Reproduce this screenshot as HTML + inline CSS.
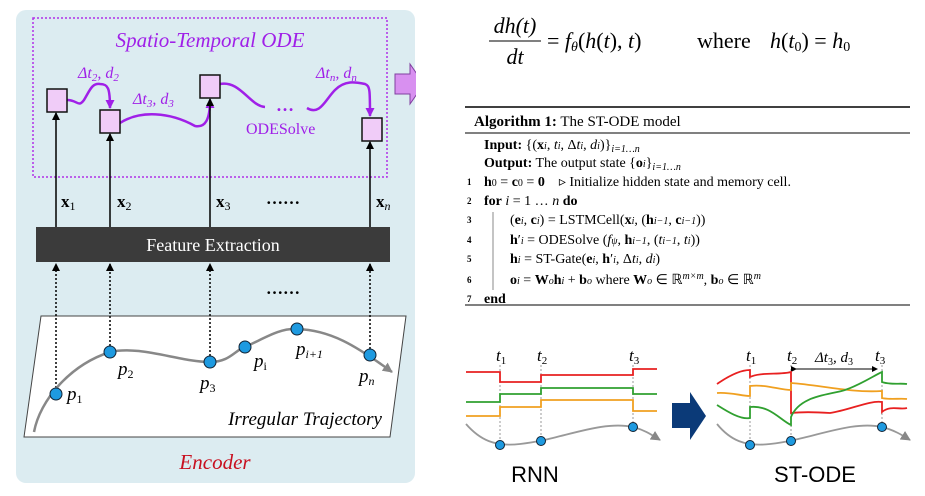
<!DOCTYPE html>
<html><head><meta charset="utf-8"><style>
body{margin:0;background:#fff;}
svg{display:block;}
.s{font-family:"Liberation Serif",serif;}
</style></head><body>
<svg width="925" height="496" viewBox="0 0 925 496" xmlns="http://www.w3.org/2000/svg" class="s">
<defs>
<marker id="ab" markerWidth="8" markerHeight="8" refX="7" refY="4" orient="auto" markerUnits="userSpaceOnUse" viewBox="0 0 8 8"><path d="M0,0 L8,4 L0,8 Z" fill="#000"/></marker>
<marker id="ap" markerWidth="9" markerHeight="9" refX="8" refY="4.5" orient="auto" markerUnits="userSpaceOnUse" viewBox="0 0 9 9"><path d="M0,0 L9,4.5 L0,9 Z" fill="#a020e8"/></marker>
<marker id="ag" markerWidth="10" markerHeight="10" refX="9" refY="5" orient="auto" markerUnits="userSpaceOnUse" viewBox="0 0 10 10"><path d="M0,0 L10,5 L0,10 Z" fill="#888"/></marker>
<marker id="ak" markerWidth="6" markerHeight="6" refX="5" refY="3" orient="auto" markerUnits="userSpaceOnUse" viewBox="0 0 6 6"><path d="M0,0 L6,3 L0,6 Z" fill="#000"/></marker>
<clipPath id="cp"><rect x="0" y="0" width="416" height="496"/></clipPath>
</defs>
<!-- left panel -->
<rect x="16" y="10" width="399" height="473" rx="10" fill="#dcecf1"/>
<rect x="33" y="18" width="354" height="159" fill="none" stroke="#b030e8" stroke-width="1.5" stroke-dasharray="2,2"/>
<text x="210" y="47" font-size="21" font-style="italic" fill="#a020e8" text-anchor="middle">Spatio-Temporal ODE</text>
<g fill="none" stroke="#a020e8" stroke-width="2.5">
<path d="M67,100 C78,100 78,108 84,100 C90,90 92,83 100,84 C108,84 110,88 110,108" marker-end="url(#ap)"/>
<path d="M120,123 C140,110 170,112 195,126 C205,128 210,120 210,100" marker-end="url(#ap)"/>
<path d="M220,84 C240,80 250,106 265,107"/>
<path d="M307,108 C320,116 325,100 335,90 C345,80 355,82 365,84 C370,86 370,90 370,116" marker-end="url(#ap)"/>
</g>
<text x="78" y="78" font-size="16" fill="#a020e8" font-style="italic">Δt<tspan font-size="11" dy="3">2</tspan><tspan dy="-3">, d</tspan><tspan font-size="11" dy="3">2</tspan></text>
<text x="133" y="104" font-size="16" fill="#a020e8" font-style="italic">Δt<tspan font-size="11" dy="3">3</tspan><tspan dy="-3">, d</tspan><tspan font-size="11" dy="3">3</tspan></text>
<text x="316" y="78" font-size="16" fill="#a020e8" font-style="italic">Δt<tspan font-size="11" dy="3">n</tspan><tspan dy="-3">, d</tspan><tspan font-size="11" dy="3">n</tspan></text>
<text x="276" y="111" font-size="18" fill="#a020e8" font-weight="bold">…</text>
<text x="246" y="134" font-size="16" fill="#a020e8">ODESolve</text>
<path clip-path="url(#cp)" d="M395,74 H410 V64 L424,84 L410,104 V94 H395 Z" fill="#d890f0" stroke="#8040a0" stroke-width="1"/>
<g fill="#f0ccf8" stroke="#111" stroke-width="1.5">
<rect x="47" y="89" width="20" height="23"/>
<rect x="100" y="110" width="20" height="23"/>
<rect x="200" y="75" width="20" height="23"/>
<rect x="362" y="118" width="20" height="23"/>
</g>
<g stroke="#000" stroke-width="1.5" marker-end="url(#ab)">
<line x1="56" y1="227" x2="56" y2="113"/>
<line x1="110" y1="227" x2="110" y2="134"/>
<line x1="210" y1="227" x2="210" y2="99"/>
<line x1="370" y1="227" x2="370" y2="142"/>
</g>
<g font-size="17" font-weight="bold">
<text x="61" y="207">x<tspan font-size="12" font-weight="normal" dy="3">1</tspan></text>
<text x="117" y="207">x<tspan font-size="12" font-weight="normal" dy="3">2</tspan></text>
<text x="216" y="207">x<tspan font-size="12" font-weight="normal" dy="3">3</tspan></text>
<text x="376" y="207">x<tspan font-size="12" font-weight="normal" font-style="italic" dy="3">n</tspan></text>
<text x="266" y="204">……</text>
<text x="266" y="294">……</text>
</g>
<rect x="36" y="227" width="354" height="35" fill="#3b3b3b"/>
<text x="213" y="251" font-size="18" fill="#fff" text-anchor="middle">Feature Extraction</text>
<path d="M41,316 L406,316 L390,437 L24,437 Z" fill="#fff" stroke="#444" stroke-width="1"/>
<g stroke="#000" stroke-width="1.5" stroke-dasharray="2,2" marker-end="url(#ab)">
<line x1="56" y1="392" x2="56" y2="264"/>
<line x1="110" y1="350" x2="110" y2="264"/>
<line x1="210" y1="360" x2="210" y2="264"/>
<line x1="370" y1="353" x2="370" y2="264"/>
</g>
<path d="M34,432 C40,400 70,365 110,352 C140,345 180,362 210,362 C230,362 235,350 245,347 C265,338 280,328 297,329 C330,330 355,345 392,372" fill="none" stroke="#888" stroke-width="2.5" marker-end="url(#ag)"/>
<g fill="#1e9ae0" stroke="#123" stroke-width="1">
<circle cx="56" cy="394" r="6"/><circle cx="110" cy="352" r="6"/><circle cx="210" cy="362" r="6"/>
<circle cx="245" cy="347" r="6"/><circle cx="297" cy="329" r="6"/><circle cx="370" cy="355" r="6"/>
</g>
<g font-size="19" font-style="italic">
<text x="67" y="400">p<tspan font-size="12" font-style="normal" dy="3">1</tspan></text>
<text x="118" y="375">p<tspan font-size="12" font-style="normal" dy="3">2</tspan></text>
<text x="200" y="389">p<tspan font-size="12" font-style="normal" dy="3">3</tspan></text>
<text x="254" y="367">p<tspan font-size="12" font-style="normal" dy="3">i</tspan></text>
<text x="296" y="355">p<tspan font-size="12" dy="3">i+1</tspan></text>
<text x="359" y="382">p<tspan font-size="12" dy="3">n</tspan></text>
</g>
<text x="382" y="425" font-size="19" font-style="italic" text-anchor="end">Irregular Trajectory</text>
<text x="215" y="469" font-size="21" font-style="italic" fill="#c81020" text-anchor="middle">Encoder</text>

<!-- equation -->
<g font-size="22" font-style="italic">
<text x="515" y="33" text-anchor="middle">dh(t)</text>
<line x1="489" y1="41" x2="541" y2="41" stroke="#000" stroke-width="1"/>
<text x="515" y="64" text-anchor="middle">dt</text>
<text x="547" y="48"><tspan font-style="normal">= </tspan>f<tspan font-size="14" dy="3">θ</tspan><tspan dy="-3" font-style="normal">(</tspan>h<tspan font-style="normal">(</tspan>t<tspan font-style="normal">), </tspan>t<tspan font-style="normal">)</tspan></text>
<text x="697" y="48" font-style="normal">where</text>
<text x="770" y="48">h<tspan font-style="normal">(</tspan>t<tspan font-size="14" font-style="normal" dy="3">0</tspan><tspan dy="-3" font-style="normal">) = </tspan>h<tspan font-size="14" font-style="normal" dy="3">0</tspan></text>
</g>

<!-- algorithm -->
<line x1="465" y1="107" x2="910" y2="107" stroke="#000" stroke-width="1.5"/>
<line x1="465" y1="133" x2="910" y2="133" stroke="#000" stroke-width="1"/>
<line x1="465" y1="305" x2="910" y2="305" stroke="#000" stroke-width="1"/>
<text x="474" y="126" font-size="15"><tspan font-weight="bold">Algorithm 1:</tspan> The ST-ODE model</text>
<g font-size="14">
<text x="484" y="149"><tspan font-weight="bold">Input:</tspan> {(<tspan font-weight="bold">x</tspan><tspan font-size="10" font-style="italic">i</tspan>, <tspan font-style="italic">t</tspan><tspan font-size="10" font-style="italic">i</tspan>, Δ<tspan font-style="italic">t</tspan><tspan font-size="10" font-style="italic">i</tspan>, <tspan font-style="italic">d</tspan><tspan font-size="10" font-style="italic">i</tspan>)}<tspan font-size="10" font-style="italic" dy="3">i=1…n</tspan></text>
<text x="484" y="167"><tspan font-weight="bold">Output:</tspan> The output state {<tspan font-weight="bold">o</tspan><tspan font-size="10" font-style="italic">i</tspan>}<tspan font-size="10" font-style="italic" dy="3">i=1…n</tspan></text>
<text x="484" y="186"><tspan font-weight="bold">h</tspan><tspan font-size="10">0</tspan> = <tspan font-weight="bold">c</tspan><tspan font-size="10">0</tspan> = <tspan font-weight="bold">0</tspan><tspan dx="14">▹ Initialize hidden state and memory cell.</tspan></text>
<text x="484" y="205"><tspan font-weight="bold">for</tspan> <tspan font-style="italic">i</tspan> = 1 … <tspan font-style="italic">n</tspan> <tspan font-weight="bold">do</tspan></text>
<text x="510" y="224">(<tspan font-weight="bold">e</tspan><tspan font-size="10" font-style="italic">i</tspan>, <tspan font-weight="bold">c</tspan><tspan font-size="10" font-style="italic">i</tspan>) = LSTMCell(<tspan font-weight="bold">x</tspan><tspan font-size="10" font-style="italic">i</tspan>, (<tspan font-weight="bold">h</tspan><tspan font-size="10" font-style="italic">i−1</tspan>, <tspan font-weight="bold">c</tspan><tspan font-size="10" font-style="italic">i−1</tspan>))</text>
<text x="510" y="244"><tspan font-weight="bold">h</tspan>′<tspan font-size="10" font-style="italic">i</tspan> = ODESolve (<tspan font-style="italic">f</tspan><tspan font-size="10" font-style="italic">ψ</tspan>, <tspan font-weight="bold">h</tspan><tspan font-size="10" font-style="italic">i−1</tspan>, (<tspan font-style="italic">t</tspan><tspan font-size="10" font-style="italic">i−1</tspan>, <tspan font-style="italic">t</tspan><tspan font-size="10" font-style="italic">i</tspan>))</text>
<text x="510" y="263"><tspan font-weight="bold">h</tspan><tspan font-size="10" font-style="italic">i</tspan> = ST-Gate(<tspan font-weight="bold">e</tspan><tspan font-size="10" font-style="italic">i</tspan>, <tspan font-weight="bold">h</tspan>′<tspan font-size="10" font-style="italic">i</tspan>, Δ<tspan font-style="italic">t</tspan><tspan font-size="10" font-style="italic">i</tspan>, <tspan font-style="italic">d</tspan><tspan font-size="10" font-style="italic">i</tspan>)</text>
<text x="510" y="284"><tspan font-weight="bold">o</tspan><tspan font-size="10" font-style="italic">i</tspan> = <tspan font-weight="bold">W</tspan><tspan font-size="10" font-style="italic">o</tspan><tspan font-weight="bold">h</tspan><tspan font-size="10" font-style="italic">i</tspan> + <tspan font-weight="bold">b</tspan><tspan font-size="10" font-style="italic">o</tspan> where <tspan font-weight="bold">W</tspan><tspan font-size="10" font-style="italic">o</tspan> ∈ ℝ<tspan font-size="10" font-style="italic" dy="-5">m×m</tspan><tspan dy="5">, </tspan><tspan font-weight="bold">b</tspan><tspan font-size="10" font-style="italic">o</tspan> ∈ ℝ<tspan font-size="10" font-style="italic" dy="-5">m</tspan></text>
<text x="484" y="303" font-weight="bold">end</text>
</g>
<g font-size="9" font-weight="bold">
<text x="467" y="185">1</text><text x="467" y="204">2</text><text x="467" y="223">3</text>
<text x="467" y="243">4</text><text x="467" y="262">5</text><text x="467" y="283">6</text><text x="467" y="302">7</text>
</g>
<line x1="493" y1="212" x2="493" y2="290" stroke="#888" stroke-width="1"/>

<!-- RNN -->
<g stroke="#999" stroke-width="1" stroke-dasharray="2,2">
<line x1="500" y1="365" x2="500" y2="445"/><line x1="541" y1="365" x2="541" y2="441"/><line x1="633" y1="365" x2="633" y2="427"/>
<line x1="750" y1="365" x2="750" y2="445"/><line x1="791" y1="365" x2="791" y2="441"/><line x1="882" y1="365" x2="882" y2="427"/>
</g>
<g font-size="17" font-style="italic">
<text x="496" y="361">t<tspan font-size="11" font-style="normal" dy="3">1</tspan></text>
<text x="537" y="361">t<tspan font-size="11" font-style="normal" dy="3">2</tspan></text>
<text x="629" y="361">t<tspan font-size="11" font-style="normal" dy="3">3</tspan></text>
<text x="746" y="361">t<tspan font-size="11" font-style="normal" dy="3">1</tspan></text>
<text x="787" y="361">t<tspan font-size="11" font-style="normal" dy="3">2</tspan></text>
<text x="875" y="361">t<tspan font-size="11" font-style="normal" dy="3">3</tspan></text>
<text x="815" y="362" font-size="15">Δt<tspan font-size="10" font-style="normal" dy="3">3</tspan><tspan dy="-3">, d</tspan><tspan font-size="10" font-style="normal" dy="3">3</tspan></text>
</g>
<g fill="none" stroke-width="1.8">
<path d="M466,372 H500 V382 H541 V375 H633 V369 H657" stroke="#e82020"/>
<path d="M466,402 H500 V394 H541 V388 H633 V394 H657" stroke="#30a030"/>
<path d="M466,416 H500 V407 H541 V400 H633 V411 H657" stroke="#f0a020"/>
<path d="M466,424 C480,440 495,447 520,444 C560,440 600,420 633,427" stroke="#999"/>
<path d="M633,427 C645,430 652,435 660,440" stroke="#999" marker-end="url(#ag)"/>
</g>
<g fill="#1e9ae0" stroke="#123" stroke-width="1">
<circle cx="500" cy="445" r="4.5"/><circle cx="541" cy="441" r="4.5"/><circle cx="633" cy="427" r="4.5"/>
</g>
<text x="535" y="482" font-family="Liberation Sans,sans-serif" font-size="22" text-anchor="middle">RNN</text>
<path d="M672,403 H690 V392 L706,416 L690,440 V428 H672 Z" fill="#0b3a78"/>
<line x1="796" y1="369" x2="877" y2="369" stroke="#000" stroke-width="1" marker-end="url(#ak)" marker-start="url(#ak)"/>
<g fill="none" stroke-width="1.8">
<path d="M717,384 C730,375 742,370 750,370 V377 C760,372 780,375 791,372 V413 C800,412 815,412 830,413 C850,410 870,400 882,402 V412 C890,405 900,410 907,408" stroke="#e82020"/>
<path d="M717,393 C730,392 742,396 750,396 V386 C765,384 780,390 791,390 V383 C820,385 850,393 882,391 V398 C890,400 900,398 907,399" stroke="#f0a020"/>
<path d="M717,405 C725,410 740,420 750,418 V407 C770,405 780,420 791,425 V417 C800,395 830,395 845,390 C860,385 875,375 882,372 V382 C890,385 900,383 907,384" stroke="#30a030"/>
<path d="M717,424 C730,440 745,447 770,444 C810,440 850,420 882,427" stroke="#999"/>
<path d="M882,427 C894,430 902,435 910,440" stroke="#999" marker-end="url(#ag)"/>
</g>
<g fill="#1e9ae0" stroke="#123" stroke-width="1">
<circle cx="750" cy="445" r="4.5"/><circle cx="791" cy="441" r="4.5"/><circle cx="882" cy="427" r="4.5"/>
</g>
<text x="815" y="482" font-family="Liberation Sans,sans-serif" font-size="22" text-anchor="middle">ST-ODE</text>
</svg>
</body></html>
